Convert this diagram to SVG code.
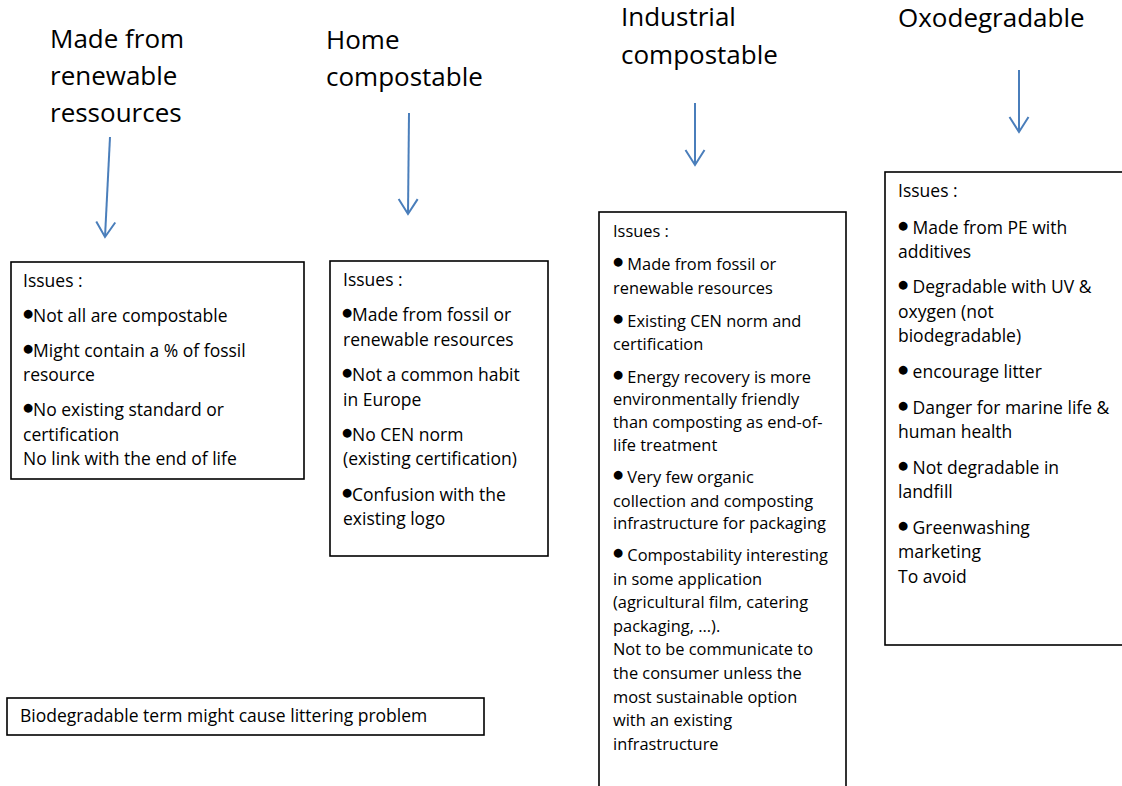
<svg xmlns="http://www.w3.org/2000/svg" width="1122" height="786" viewBox="0 0 1122 786">
<style>
.title{font-family:"Open Sans","Liberation Sans",sans-serif;font-size:26px;fill:#000}
.t{font-family:"Open Sans","Liberation Sans",sans-serif;font-size:17.5px;fill:#000}
.s{font-family:"Open Sans","Liberation Sans",sans-serif;font-size:16.4px;fill:#000}
.box{fill:#fff;stroke:#000;stroke-width:1.6}
.arrow{fill:none;stroke:#4a7ebb;stroke-width:2;marker-end:url(#head)}
.b{font-family:"DejaVu Sans",sans-serif;font-size:11.5px}
</style>
<defs>
<marker id="head" viewBox="-17 -11 19 22" refX="0" refY="0" markerWidth="19" markerHeight="22" markerUnits="userSpaceOnUse" orient="auto">
<path d="M -15 -9.5 L 0 0 L -15 9.5" fill="none" stroke="#4a7ebb" stroke-width="2"/>
</marker>
</defs>
<rect width="1122" height="786" fill="#fff"/>
<g id="title-renewable"><text class="title" x="50" y="48">Made from</text><text class="title" x="50" y="85">renewable</text><text class="title" x="50" y="122">ressources</text></g>
<g id="title-home"><text class="title" x="326" y="49">Home</text><text class="title" x="326" y="86">compostable</text></g>
<g id="title-industrial"><text class="title" x="621" y="26">Industrial</text><text class="title" x="621" y="64">compostable</text></g>
<g id="title-oxo"><text class="title" x="898" y="27">Oxodegradable</text></g>
<g id="connectors">
<line class="arrow" x1="110" y1="137" x2="105" y2="237"/>
<line class="arrow" x1="409" y1="113" x2="408" y2="214"/>
<line class="arrow" x1="695" y1="103" x2="695" y2="165"/>
<line class="arrow" x1="1019" y1="70" x2="1019" y2="132"/>
</g>
<g id="box-renewable">
<rect class="box" x="11" y="262" width="293" height="217"/>
<text class="t" x="23" y="287">Issues :</text>
<text class="t" x="23" y="322"><tspan class="b" dy="-5">●</tspan><tspan dy="5">Not all are compostable</tspan></text>
<text class="t" x="23" y="357"><tspan class="b" dy="-5">●</tspan><tspan dy="5">Might contain a % of fossil</tspan></text>
<text class="t" x="23" y="381">resource</text>
<text class="t" x="23" y="416"><tspan class="b" dy="-5">●</tspan><tspan dy="5">No existing standard or</tspan></text>
<text class="t" x="23" y="441">certification</text>
<text class="t" x="23" y="465">No link with the end of life</text>
</g>
<g id="box-home">
<rect class="box" x="330" y="261" width="218" height="295"/>
<text class="t" x="343" y="286">Issues :</text>
<text class="t" x="342" y="321"><tspan class="b" dy="-5">●</tspan><tspan dy="5">Made from fossil or</tspan></text>
<text class="t" x="343" y="346">renewable resources</text>
<text class="t" x="342" y="381"><tspan class="b" dy="-5">●</tspan><tspan dy="5">Not a common habit</tspan></text>
<text class="t" x="343" y="406">in Europe</text>
<text class="t" x="342" y="441"><tspan class="b" dy="-5">●</tspan><tspan dy="5">No CEN norm</tspan></text>
<text class="t" x="343" y="465">(existing certification)</text>
<text class="t" x="342" y="501"><tspan class="b" dy="-5">●</tspan><tspan dy="5">Confusion with the</tspan></text>
<text class="t" x="343" y="525">existing logo</text>
</g>
<g id="box-industrial">
<rect class="box" x="599" y="212" width="247" height="590"/>
<text class="s" x="613" y="237">Issues :</text>
<text class="s" x="613" y="270"><tspan class="b" dy="-5">●</tspan><tspan dy="5"> Made from fossil or</tspan></text>
<text class="s" x="613" y="294">renewable resources</text>
<text class="s" x="613" y="327"><tspan class="b" dy="-5">●</tspan><tspan dy="5"> Existing CEN norm and</tspan></text>
<text class="s" x="613" y="350">certification</text>
<text class="s" x="613" y="383"><tspan class="b" dy="-5">●</tspan><tspan dy="5"> Energy recovery is more</tspan></text>
<text class="s" x="613" y="405">environmentally friendly</text>
<text class="s" x="613" y="428">than composting as end-of-</text>
<text class="s" x="613" y="451">life treatment</text>
<text class="s" x="613" y="483"><tspan class="b" dy="-5">●</tspan><tspan dy="5"> Very few organic</tspan></text>
<text class="s" x="613" y="507">collection and composting</text>
<text class="s" x="613" y="529">infrastructure for packaging</text>
<text class="s" x="613" y="561"><tspan class="b" dy="-5">●</tspan><tspan dy="5"> Compostability interesting</tspan></text>
<text class="s" x="613" y="585">in some application</text>
<text class="s" x="613" y="608">(agricultural film, catering</text>
<text class="s" x="613" y="632">packaging, ...).</text>
<text class="s" x="613" y="655">Not to be communicate to</text>
<text class="s" x="613" y="679">the consumer unless the</text>
<text class="s" x="613" y="703">most sustainable option</text>
<text class="s" x="613" y="726">with an existing</text>
<text class="s" x="613" y="750">infrastructure</text>
</g>
<g id="box-oxo">
<rect class="box" x="885" y="172" width="250" height="473"/>
<text class="t" x="898" y="197">Issues :</text>
<text class="t" x="898" y="234"><tspan class="b" dy="-5">●</tspan><tspan dy="5"> Made from PE with</tspan></text>
<text class="t" x="898" y="258">additives</text>
<text class="t" x="898" y="293"><tspan class="b" dy="-5">●</tspan><tspan dy="5"> Degradable with UV &amp;</tspan></text>
<text class="t" x="898" y="318">oxygen (not</text>
<text class="t" x="898" y="342">biodegradable)</text>
<text class="t" x="898" y="378"><tspan class="b" dy="-5">●</tspan><tspan dy="5">  encourage litter</tspan></text>
<text class="t" x="898" y="414"><tspan class="b" dy="-5">●</tspan><tspan dy="5"> Danger for marine life &amp;</tspan></text>
<text class="t" x="898" y="438">human health</text>
<text class="t" x="898" y="474"><tspan class="b" dy="-5">●</tspan><tspan dy="5"> Not degradable in</tspan></text>
<text class="t" x="898" y="498">landfill</text>
<text class="t" x="898" y="534"><tspan class="b" dy="-5">●</tspan><tspan dy="5"> Greenwashing</tspan></text>
<text class="t" x="898" y="558">marketing</text>
<text class="t" x="898" y="583">To avoid</text>
</g>
<g id="box-littering">
<rect class="box" x="7" y="698" width="477" height="37"/>
<text class="t" x="20" y="722">Biodegradable term might cause littering problem</text>
</g>
</svg>
